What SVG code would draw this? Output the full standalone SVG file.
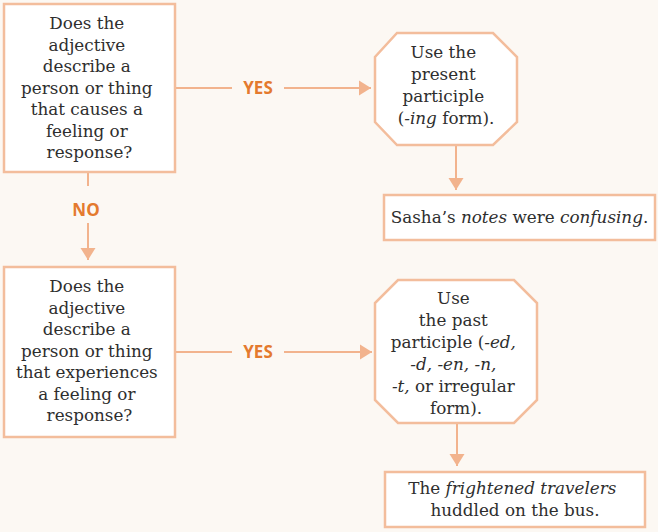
<svg xmlns="http://www.w3.org/2000/svg" width="658" height="532" viewBox="0 0 658 532">
  <style>
    .bg { fill: #fcf8f3; }
    .node { fill: #ffffff; stroke: #f3bd9c; stroke-width: 2.5; }
    .link { fill: none; stroke: #f2b38d; stroke-width: 2; }
    .txt { font-family: "DejaVu Serif", "Liberation Serif", serif; font-size: 16.8px; fill: #2e2e2e; text-anchor: middle; }
    .it { font-style: italic; }
    .lbl { font-family: "Open Sans", "Liberation Sans", sans-serif; font-weight: bold; font-size: 17px; fill: #e47a2e; text-anchor: middle; }
  </style>
  <defs>
    <marker id="arrow" viewBox="0 0 12 20" refX="12" refY="10" markerWidth="12" markerHeight="20" markerUnits="userSpaceOnUse" orient="auto">
      <path d="M0,2.5 L12,10 L0,17.5 Z" fill="#f2b38d"/>
    </marker>
  </defs>

  <rect class="bg" x="0" y="0" width="658" height="532"/>

  <!-- connectors -->
  <g id="connectors">
    <path class="link" d="M175,88 H232"/>
    <path class="link" d="M284,88 H371" marker-end="url(#arrow)"/>
    <path class="link" d="M456,145 V190" marker-end="url(#arrow)"/>
    <path class="link" d="M88,172 V186"/>
    <path class="link" d="M88,223 V260" marker-end="url(#arrow)"/>
    <path class="link" d="M175,352 H232"/>
    <path class="link" d="M284,352 H372" marker-end="url(#arrow)"/>
    <path class="link" d="M457,423 V466" marker-end="url(#arrow)"/>
    <text class="lbl" x="258" y="94">YES</text>
    <text class="lbl" x="86" y="216">NO</text>
    <text class="lbl" x="258" y="358">YES</text>
  </g>

  <!-- question 1 -->
  <g id="q1">
    <rect class="node" x="4" y="4" width="171" height="168"/>
    <text class="txt">
      <tspan x="89.5" y="29">Does the</tspan>
      <tspan x="89.5" y="50.5">adjective</tspan>
      <tspan x="89.5" y="72">describe a</tspan>
      <tspan x="89.5" y="93.5">person or thing</tspan>
      <tspan x="89.5" y="115">that causes a</tspan>
      <tspan x="89.5" y="136.5">feeling or</tspan>
      <tspan x="89.5" y="158">response?</tspan>
    </text>
  </g>

  <!-- present participle -->
  <g id="present">
    <polygon class="node" points="397,33 493,33 517,57 517,122 493,145 397,145 375,122 375,57"/>
    <text class="txt">
      <tspan x="446" y="58">Use the</tspan>
      <tspan x="446" y="80">present</tspan>
      <tspan x="446" y="102">participle</tspan>
      <tspan x="446" y="124">(<tspan class="it">-ing</tspan> form).</tspan>
    </text>
  </g>

  <!-- example 1 -->
  <g id="ex1">
    <rect class="node" x="384" y="195" width="271" height="45"/>
    <text class="txt" x="519.5" y="223">Sasha’s <tspan class="it">notes</tspan> were <tspan class="it">confusing</tspan>.</text>
  </g>

  <!-- question 2 -->
  <g id="q2">
    <rect class="node" x="4" y="267" width="171" height="170"/>
    <text class="txt">
      <tspan x="89.5" y="292">Does the</tspan>
      <tspan x="89.5" y="313.5">adjective</tspan>
      <tspan x="89.5" y="335">describe a</tspan>
      <tspan x="89.5" y="356.5">person or thing</tspan>
      <tspan x="89.5" y="378">that experiences</tspan>
      <tspan x="89.5" y="399.5">a feeling or</tspan>
      <tspan x="89.5" y="421">response?</tspan>
    </text>
  </g>

  <!-- past participle -->
  <g id="past">
    <polygon class="node" points="398,280 514,280 537,303 537,400 514,423 398,423 375,400 375,303"/>
    <text class="txt">
      <tspan x="456" y="304">Use</tspan>
      <tspan x="456" y="326">the past</tspan>
      <tspan x="456" y="348">participle (<tspan class="it">-ed,</tspan></tspan>
      <tspan x="456" y="370" class="it">-d, -en, -n,</tspan>
      <tspan x="456" y="392"><tspan class="it">-t,</tspan> or irregular</tspan>
      <tspan x="456" y="414">form).</tspan>
    </text>
  </g>

  <!-- example 2 -->
  <g id="ex2">
    <rect class="node" x="385" y="472" width="260" height="55"/>
    <text class="txt">
      <tspan x="515" y="494">The <tspan class="it">frightened travelers</tspan></tspan>
      <tspan x="515" y="516">huddled on the bus.</tspan>
    </text>
  </g>
</svg>
